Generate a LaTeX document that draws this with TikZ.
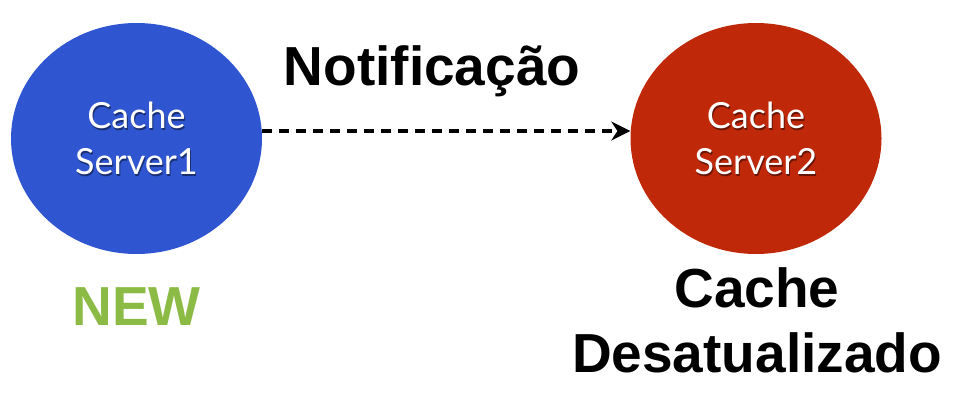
\documentclass[tikz,border=0pt]{standalone}
\usepackage{fontspec}
\setmainfont{Liberation Sans}
\newfontfamily\gillfont{Lato}
\usetikzlibrary{shapes.geometric,arrows.meta}
\definecolor{srvblue}{RGB}{47,86,208}
\definecolor{srvred}{RGB}{192,40,10}
\definecolor{newgreen}{RGB}{139,186,69}
\tikzset{
  server/.style={ellipse,minimum width=251pt,minimum height=231pt,inner sep=0pt,draw=none},
  srvtext/.style={text=white,align=center,font=\gillfont\fontsize{36}{46}\selectfont},
  srvshadow/.style={text=black,opacity=0.45,align=center,font=\gillfont\fontsize{36}{46}\selectfont},
  bigtext/.style={font=\bfseries\fontsize{55}{65}\selectfont,anchor=base,inner sep=0pt},
  notify/.style={line width=4.5pt,dash pattern=on 10pt off 7pt,-{Stealth[length=19pt,width=19pt]}}
}
\begin{document}
\begin{tikzpicture}[x=1pt,y=-1pt]
\useasboundingbox (0,0) rectangle (972,417);
\node[server,fill=srvblue] (s1) at (136.5,138.5) {};
\node[server,fill=srvred] (s2) at (756,138.5) {};
\node[srvshadow] at ([xshift=1pt,yshift=-1.5pt]s1.center) {Cache\\Server1};
\node[srvtext] (t1) at (s1.center) {Cache\\Server1};
\node[srvshadow] at ([xshift=1pt,yshift=-1.5pt]s2.center) {Cache\\Server2};
\node[srvtext] (t2) at (s2.center) {Cache\\Server2};
\draw[notify] ([yshift=7.5pt]s1.east) -- ([yshift=7.5pt]s2.west);
\node[bigtext] (notif) at (432,86) {Notificação};
\node[bigtext,text=newgreen] (new) at (136.5,325) {NEW};
\node[bigtext] (desat1) at (757,307) {Cache};
\node[bigtext] (desat2) at (757,372) {Desatualizado};
\end{tikzpicture}
\end{document}
